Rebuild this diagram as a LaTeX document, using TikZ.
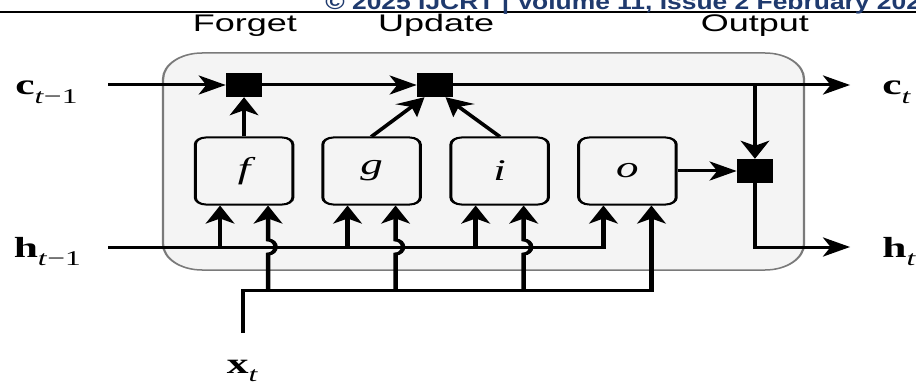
\documentclass[tikz,border=0pt]{standalone}
\usepackage{fontspec}
\setmainfont{Liberation Serif}
\newfontfamily\sansf{Liberation Sans}
\usetikzlibrary{arrows.meta,calc}
\definecolor{framefill}{HTML}{F4F4F4}
\definecolor{framedraw}{HTML}{7A7A7A}
\definecolor{hdrcol}{HTML}{1F3A6E}
\newcommand{\varlab}[2]{\textbf{#1}\raisebox{-0.28em}{\fontsize{21}{21}\selectfont #2}}
\begin{document}
\begin{tikzpicture}[x=1pt,y=-1pt,
  wire/.style={line width=3pt},
  arr/.style={wire,-{Stealth[length=18pt,width=19pt,inset=5pt]}},
  mult/.style={fill=black,draw=none,minimum width=24pt,minimum height=24pt,inner sep=0pt},
  gate/.style={draw,line width=2pt,rounded corners=7pt,fill=framefill,minimum width=65pt,minimum height=67pt,inner sep=0pt,font=\fontsize{30}{30}\selectfont\itshape},
  lab/.style={inner sep=0pt,anchor=base west,font=\fontsize{29}{30}\selectfont},
  ttl/.style={inner sep=0pt,anchor=base,font=\sansf\fontsize{24}{24}\selectfont}]
\useasboundingbox (0,0) rectangle (916,385);
\fill[white] (0,0) rectangle (916,385);
\draw[line width=2.5pt] (0,12) -- (916,12);
\begin{scope}[transform canvas={xscale=1.5}]
  % header (cut off by the page's top edge, as in the reference)
  \node[inner sep=0pt,anchor=base west,text=hdrcol,font=\sansf\bfseries\fontsize{22}{22}\selectfont] (hdr) at (216.7,9.5) {\scalebox{0.8}[1]{© 2025 IJCRT | Volume 11, Issue 2 February 202}};
  % titles
  \node[ttl] (tf) at (163.3,32) {Forget};
  \node[ttl] (tu) at (290.7,32) {Update};
  \node[ttl] (to) at (503.3,32) {Output};
  % frame
  \draw[framedraw,fill=framefill,line width=1.5pt,rounded corners=26pt] (108.7,53) rectangle (536,270);
  % nodes
  \node[mult] (m1) at (162.7,85) {};
  \node[mult] (m2) at (290,85) {};
  \node[mult] (m3) at (503.3,171) {};
  \node[gate] (f) at (162.7,171) {f};
  \node[gate] (g) at (247.7,171) {g};
  \node[gate] (i) at (333.1,171) {i};
  \node[gate] (o) at (418.3,171) {o};
  % labels
  \node[lab] (lc) at (10,95) {\varlab{c}{\textit{t}−1}};
  \node[lab] (lh) at (9,257) {\varlab{h}{\textit{t}−1}};
  \node[lab] (lct) at (588,95) {\varlab{c}{\textit{t}}};
  \node[lab] (lht) at (588,257) {\varlab{h}{\textit{t}}};
  \node[lab] (lx) at (151,373) {\varlab{x}{\textit{t}}};
  % coordinates
  \coordinate (cin) at (72,85);
  \coordinate (hin) at (72,247);
  \coordinate (cout) at (566.7,85);
  \coordinate (hout) at (566.7,247);
  \coordinate (xin) at (162,333);
  \coordinate (xb) at (0,290);
  \coordinate (fL) at ($(f.south)+(-16,0)$);
  \coordinate (fR) at ($(f.south)+(16,0)$);
  \coordinate (gL) at ($(g.south)+(-16,0)$);
  \coordinate (gR) at ($(g.south)+(16,0)$);
  \coordinate (iL) at ($(i.south)+(-16,0)$);
  \coordinate (iR) at ($(i.south)+(16,0)$);
  \coordinate (oL) at ($(o.south)+(-16,0)$);
  \coordinate (oR) at ($(o.south)+(16,0)$);
  \coordinate (fRh) at (fR |- hin);
  \coordinate (gRh) at (gR |- hin);
  \coordinate (iRh) at (iR |- hin);
  % cell state path
  \draw[arr] (cin) -- (m1.west);
  \draw[arr] (m1.east) -- (m2.west);
  \draw[arr] (m2.east) -- (cout);
  \draw[arr] (m3.north |- cout) -- (m3.north);
  % gates to multipliers
  \draw[arr] (f.north) -- (m1.south);
  \draw[arr] (g.north) -- ($(m2.south)+(-7,0)$);
  \draw[arr] (i.north) -- ($(m2.south)+(7,0)$);
  \draw[arr] (o.east) -- (m3.west);
  \draw[arr] (m3.south) |- (hout);
  % hidden state inputs
  \draw[arr] (hin) -| (oL);
  \draw[arr] (fL |- hin) -- (fL);
  \draw[arr] (gL |- hin) -- (gL);
  \draw[arr] (iL |- hin) -- (iL);
  % x inputs
  \draw[arr] (xin) -- (xin |- xb) -- (oR |- xb) -- (oR);
  \draw[arr] (fR |- xb) -- ($(fRh)+(0,7)$) arc[start angle=90,end angle=-90,x radius=5,y radius=7] -- (fR);
  \draw[arr] (gR |- xb) -- ($(gRh)+(0,7)$) arc[start angle=90,end angle=-90,x radius=5,y radius=7] -- (gR);
  \draw[arr] (iR |- xb) -- ($(iRh)+(0,7)$) arc[start angle=90,end angle=-90,x radius=5,y radius=7] -- (iR);
\end{scope}
\end{tikzpicture}
\end{document}
